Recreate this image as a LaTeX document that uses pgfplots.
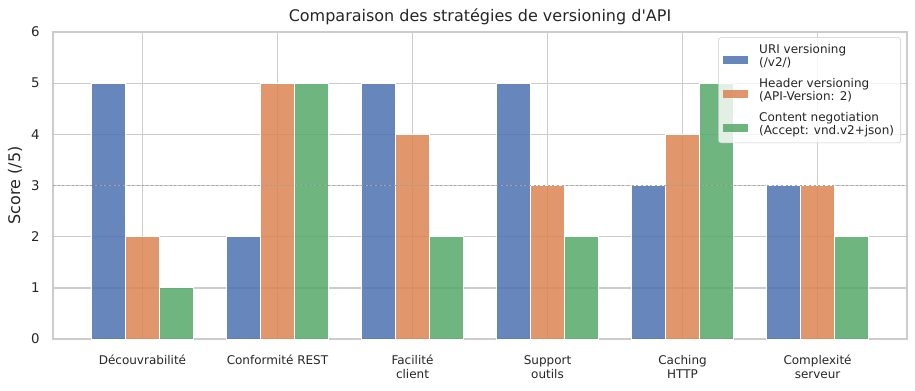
\documentclass[border=0pt]{standalone}
\usepackage{pgfplots}
\pgfplotsset{compat=1.18}
\usepackage{fontspec}
\setmainfont{DejaVu Sans}[Ligatures=TeXOff]
\definecolor{cblue}{HTML}{4C72B0}
\definecolor{corange}{HTML}{DD8452}
\definecolor{cgreen}{HTML}{55A868}
\definecolor{txt}{HTML}{262626}
\definecolor{gridc}{HTML}{CCCCCC}
\begin{document}
\begin{tikzpicture}
\useasboundingbox (-39.75pt,-38.25pt) rectangle (646.5pt,254.25pt);
\begin{axis}[
  at={(0pt,0pt)}, anchor=south west,
  scale only axis, width=640.5pt, height=230.25pt,
  xmin=-0.6625, xmax=5.6625, ymin=0, ymax=6,
  xtick={0,...,5}, ytick={0,...,6},
  xticklabels={Découvrabilité, Conformité REST, {Facilité\\client}, {Support\\outils}, {Caching\\HTTP}, {Complexité\\serveur}},
  xticklabel style={align=center, font=\fontsize{9}{10.5}\selectfont, text=txt, yshift=-8.75pt},
  yticklabel style={font=\fontsize{10}{12}\selectfont, text=txt, xshift=-6.5pt},
  /pgf/number format/assume math mode=true,
  grid=major, major grid style={draw=gridc, line width=1pt},
  axis line style={draw=gridc, line width=1.1pt},
  major tick length=0pt,
  title={Comparaison des stratégies de versioning d'API},
  title style={font=\fontsize{12}{14}\selectfont, text=txt, at={(0.5,1)}, anchor=base, yshift=1.6pt},
  ylabel={Score (/5)},
  ylabel style={font=\fontsize{12}{14}\selectfont, text=txt, at={(axis description cs:-0.0445,0.5)}, anchor=center},
  legend style={at={(axis description cs:1,1)}, anchor=north east, xshift=-4.5pt, yshift=-4pt,
    draw=gridc, rounded corners=2pt, fill=white, fill opacity=0.8, text opacity=1,
    font=\fontsize{9}{9.6}\selectfont, text=txt, cells={align=left},
    inner xsep=3.5pt, inner ysep=3.5pt, nodes={inner sep=1.5pt}, row sep=4.6pt, column sep=7pt},
  legend cell align=left,
]
\addplot[ybar, bar width=0.25, bar shift=-0.25, fill=cblue, draw=white, line width=0.75pt, fill opacity=0.85,
  legend image code/.code={\fill[cblue, fill opacity=0.85, draw=none, sharp corners] (0pt,-6pt) rectangle (18.5pt,0pt);}]
  coordinates {(0,5) (1,2) (2,5) (3,5) (4,3) (5,3)};
\addlegendentry{URI versioning\\(/v2/)}
\addplot[ybar, bar width=0.25, bar shift=0, fill=corange, draw=white, line width=0.75pt, fill opacity=0.85,
  legend image code/.code={\fill[corange, fill opacity=0.85, draw=none, sharp corners] (0pt,-6pt) rectangle (18.5pt,0pt);}]
  coordinates {(0,2) (1,5) (2,4) (3,3) (4,4) (5,3)};
\addlegendentry{Header versioning\\(API-Version: 2)}
\addplot[ybar, bar width=0.25, bar shift=0.25, fill=cgreen, draw=white, line width=0.75pt, fill opacity=0.85,
  legend image code/.code={\fill[cgreen, fill opacity=0.85, draw=none, sharp corners] (0pt,-6pt) rectangle (18.5pt,0pt);}]
  coordinates {(0,1) (1,5) (2,2) (3,2) (4,5) (5,2)};
\addlegendentry{Content negotiation\\(Accept: vnd.v2+json)}
\addplot[forget plot, draw=black!35, line width=1.1pt, dash pattern=on 1.5pt off 2pt]
  coordinates {(-0.6625,3) (5.6625,3)};
\end{axis}
\end{tikzpicture}
\end{document}
